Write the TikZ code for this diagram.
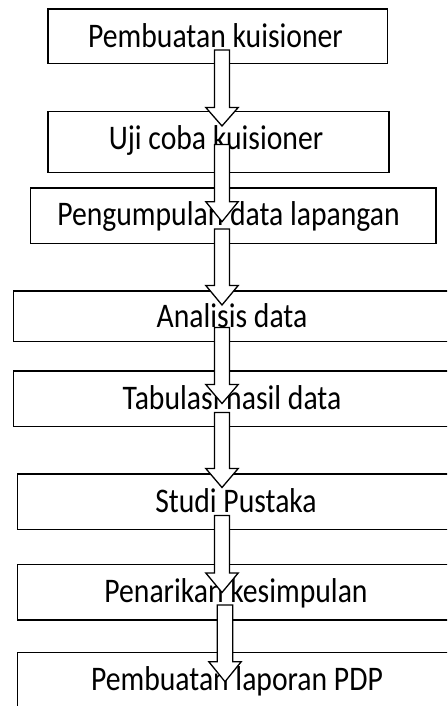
\documentclass[tikz,border=0pt]{standalone}
\usepackage{fontspec}
\setmainfont{Carlito}[FakeStretch=0.86]
\begin{document}
\begin{tikzpicture}[x=1pt,y=-1pt,
  box/.style={draw=black, line width=1.6pt, fill=white},
  lbl/.style={inner sep=0pt, anchor=base, font=\fontsize{34.5}{38}\selectfont},
  barrow/.style={draw=black, line width=1.3pt, fill=white, line join=miter}]
\useasboundingbox (0,0) rectangle (447,706);
\clip (0,0) rectangle (447,706);
% boxes
\draw[box] (48,9) rectangle (387.5,63.5) coordinate (b1);
\draw[box] (48,111.5) rectangle (389,172.5) coordinate (b2);
\draw[box] (30.5,188) rectangle (436,243.5) coordinate (b3);
\draw[box] (13.5,291) rectangle (455,341.5) coordinate (b4);
\draw[box] (13.5,371) rectangle (455,426.5) coordinate (b5);
\draw[box] (17.5,473.7) rectangle (458,529.3) coordinate (b6);
\draw[box] (17.5,564.3) rectangle (458,619.8) coordinate (b7);
\draw[box] (17.5,652.5) rectangle (458,730) coordinate (b8);
% labels
\node[lbl] (t1) at (215.5,48) {Pembuatan kuisioner};
\node[lbl] (t2) at (216,149) {Uji coba kuisioner};
\node[lbl] (t3) at (228.5,225) {Pengumpulan data lapangan};
\node[lbl] (t4) at (232,327) {Analisis data};
\node[lbl] (t5) at (232,409) {Tabulasi hasil data};
\node[lbl] (t6) at (236,512) {Studi Pustaka};
\node[lbl] (t7) at (236,602) {Penarikan kesimpulan};
\node[lbl] (t8) at (237,690) {Pembuatan laporan PDP};
% block arrows: cx, top, neck, tip, half shaft, half head
\newcommand\blockarr[6]{%
  \draw[barrow] (#1-#5,#2) -- (#1+#5,#2) -- (#1+#5,#3) -- (#1+#6,#3) -- (#1,#4) -- (#1-#6,#3) -- (#1-#5,#3) -- cycle;}
\blockarr{222}{50}{107.5}{126}{7.5}{16.2}
\blockarr{222}{144.5}{201.7}{221.7}{7.5}{16.2}
\blockarr{222}{229}{285.5}{305}{7.5}{16.2}
\blockarr{222}{327.5}{384.5}{403.5}{7.5}{16.2}
\blockarr{222}{412.5}{468.5}{487.5}{7.5}{16.2}
\blockarr{222}{515.5}{573}{592.5}{7.5}{16.2}
\blockarr{225}{605}{661.7}{681.7}{7.8}{16.2}
\end{tikzpicture}
\end{document}
